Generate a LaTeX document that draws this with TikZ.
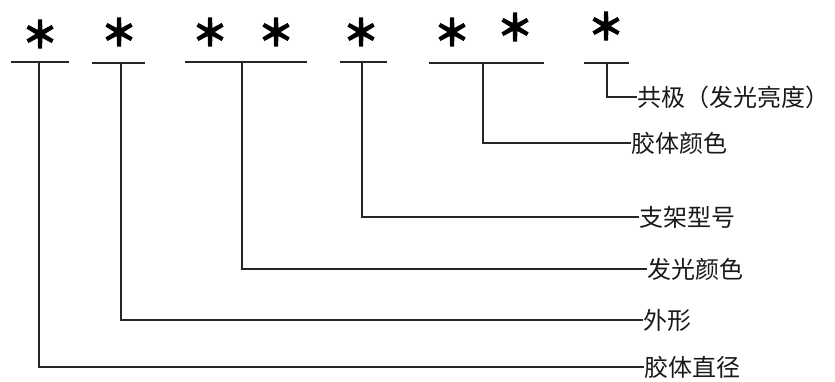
\documentclass[tikz,border=0pt]{standalone}
\usepackage{fontspec}
\newfontfamily\cjk{Noto Sans CJK SC}
\newfontfamily\starfont[FakeBold=3.5]{Noto Sans CJK SC Bold}
\begin{document}
\begin{tikzpicture}[x=1pt,y=-1pt,
  ln/.style={line width=1.3pt, draw=black!85},
  lbl/.style={inner sep=0pt, anchor=west, font=\cjk\fontsize{24}{24}\selectfont, text=black!90},
  star/.style={inner sep=0pt, font=\starfont\fontsize{36}{36}\selectfont, text=black}]
\useasboundingbox (0,0) rectangle (835,381);
% stars
\node[star] (s1) at (40,34) {＊};
\node[star] (s2) at (119,32) {＊};
\node[star] (s3) at (210,32) {＊};
\node[star] (s4) at (276,32) {＊};
\node[star] (s5) at (361,32) {＊};
\node[star] (s6) at (452,32) {＊};
\node[star] (s7) at (515,27) {＊};
\node[star] (s8) at (606,26) {＊};
% underlines
\coordinate (a1) at (11,62);  \coordinate (b1) at (69,62);  \coordinate (m1) at (39,62);
\coordinate (a2) at (92,63);  \coordinate (b2) at (145,63); \coordinate (m2) at (121,63);
\coordinate (a3) at (185,62); \coordinate (b3) at (307,62); \coordinate (m3) at (242,62);
\coordinate (a4) at (340,62); \coordinate (b4) at (387,62); \coordinate (m4) at (362,62);
\coordinate (a5) at (429,63); \coordinate (b5) at (544,63); \coordinate (m5) at (483,63);
\coordinate (a6) at (584,63); \coordinate (b6) at (629,63); \coordinate (m6) at (607,63);
\foreach \i in {1,...,6} { \draw[ln] (a\i) -- (b\i); }
% labels
\node[lbl] (t6) at (637,97)  {共极（发光亮度）};
\node[lbl] (t5) at (631,143) {胶体颜色};
\node[lbl] (t4) at (639,217) {支架型号};
\node[lbl] (t3) at (647,269) {发光颜色};
\node[lbl] (t2) at (643,320) {外形};
\node[lbl] (t1) at (644,367) {胶体直径};
% connectors
\draw[ln] (m6) |- (t6.west);
\draw[ln] (m5) |- (t5.west);
\draw[ln] (m4) |- (t4.west);
\draw[ln] (m3) |- (t3.west);
\draw[ln] (m2) |- (t2.west);
\draw[ln] (m1) |- (t1.west);
\end{tikzpicture}
\end{document}
